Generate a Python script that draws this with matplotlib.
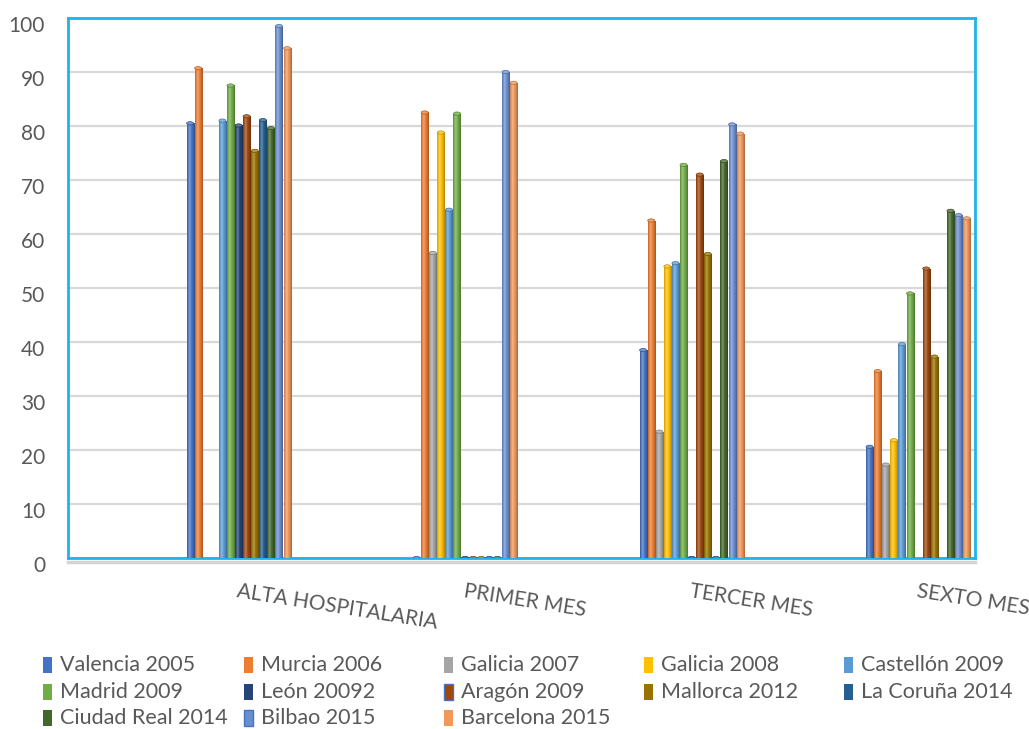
import numpy as np
import matplotlib
matplotlib.use("Agg")
import matplotlib.pyplot as plt
import matplotlib.transforms as mtransforms
from matplotlib.patches import Rectangle, Ellipse
from matplotlib.colors import to_rgb

plt.rcParams['font.family'] = ['Lato', 'DejaVu Sans']

nan = np.nan

categories = ['ALTA HOSPITALARIA', 'PRIMER MES', 'TERCER MES', 'SEXTO MES']

series_names = ['Valencia 2005', 'Murcia 2006', 'Galicia 2007', 'Galicia 2008',
                'Castellón 2009', 'Madrid 2009', 'León 20092', 'Aragón 2009',
                'Mallorca 2012', 'La Coruña 2014', 'Ciudad Real 2014',
                'Bilbao 2015', 'Barcelona 2015']

valencia_2005 = [80.5, 0, 38.5, 20.6]
murcia_2006 = [90.7, 82.5, 62.5, 34.6]
galicia_2007 = [nan, 56.5, 23.4, 17.3]
galicia_2008 = [nan, 78.8, 54.0, 21.8]
castellon_2009 = [81.0, 64.5, 54.6, 39.6]
madrid_2009 = [87.5, 82.3, 72.8, 49.0]
leon_20092 = [80.1, 0, 0, nan]
aragon_2009 = [81.8, 0, 71.0, 53.6]
mallorca_2012 = [75.4, 0, 56.3, 37.3]
la_coruna_2014 = [81.1, 0, 0, nan]
ciudad_real_2014 = [79.6, 0, 73.5, 64.3]
bilbao_2015 = [98.5, 90.0, 80.3, 63.5]
barcelona_2015 = [94.4, 88.0, 78.6, 62.9]

series_values = [valencia_2005, murcia_2006, galicia_2007, galicia_2008,
                 castellon_2009, madrid_2009, leon_20092, aragon_2009,
                 mallorca_2012, la_coruna_2014, ciudad_real_2014,
                 bilbao_2015, barcelona_2015]

colors = ['#4472C4', '#ED7D31', '#A5A5A5', '#FFC000', '#5B9BD5', '#70AD47',
          '#264478', '#9E480E', '#997300', '#255E91', '#43682B', '#698ED0',
          '#F1975A']

yticks = list(range(0, 101, 10))

TEXT = '#595959'
FRAME = '#1DB4EE'

fig = plt.figure(figsize=(10.29, 7.29), dpi=100)
W, H = 1029, 729
ax = fig.add_axes([68 / W, 1 - 558 / H, (975 - 68) / W, (558 - 18) / H])

pitch = 0.0357
width = 0.031
n = len(series_values)

# horizontal shading profile for the cylinders
t = np.linspace(0, 1, 32)
edge = 1 - 0.32 * (np.abs(t - 0.42) / 0.58) ** 2
highlight = 0.28 * np.exp(-((t - 0.33) / 0.17) ** 2)

x_base = np.arange(len(categories))
for j, (vals, col) in enumerate(zip(series_values, colors)):
    xs = x_base + (j - (n - 1) / 2) * pitch
    vals = np.asarray(vals, dtype=float)
    bars = ax.bar(xs, np.nan_to_num(vals), width=width, color=col,
                  linewidth=0, zorder=3)
    base = np.array(to_rgb(col))
    rgb = base[None, :] * edge[:, None]
    rgb = rgb + (1 - rgb) * highlight[:, None]
    img = rgb[None, :, :]
    cap_col = base + (1 - base) * 0.25
    for x, v, patch in zip(xs, vals, bars.patches):
        if np.isnan(v):
            patch.set_visible(False)
            continue
        if v > 0:
            im = ax.imshow(img, extent=[x - width / 2, x + width / 2, 0, v],
                           aspect='auto', interpolation='bilinear', zorder=3.1)
            im.set_clip_path(patch)
        ax.add_patch(Ellipse((x, v), width, 0.6, facecolor=cap_col,
                             edgecolor=base * 0.75, linewidth=0.5, zorder=3.2))

ax.set_xlim(-0.753, 3.251)
ax.set_ylim(0, 100)

ax.set_yticks(yticks)
ax.set_yticklabels([str(v) for v in yticks])
ax.tick_params(axis='y', length=0, pad=16.5, labelsize=15, labelcolor=TEXT)
shift = mtransforms.ScaledTranslation(0, -6 / 100, fig.dpi_scale_trans)
for tick in ax.yaxis.get_major_ticks():
    tick.label1.set_transform(tick.label1.get_transform() + shift)

ax.set_xticks(x_base)
ax.set_xticklabels(categories, rotation=-9, ha='left', va='top',
                   rotation_mode='anchor')
ax.tick_params(axis='x', length=0, pad=17, labelsize=15, labelcolor=TEXT)

ax.yaxis.grid(True, color='#D9D9D9', linewidth=1.6)
ax.set_axisbelow(True)

for side in ['left', 'right', 'top', 'bottom']:
    ax.spines[side].set_color(FRAME)
    ax.spines[side].set_linewidth(2.0)
    ax.spines[side].set_zorder(2.5)

# floor edge below the plot area
ax.plot([0, 1], [-0.008, -0.008], transform=ax.transAxes, color='#D4D4D4',
        linewidth=2.5, clip_on=False, zorder=2)

# legend laid out in five fixed-width columns
row_y = [665, 692, 718]
col_x = [43, 244, 444, 644, 844]
outline = {7: '#4472C4', 11: '#4472C4'}
for i, (name, col) in enumerate(zip(series_names, colors)):
    r, c = divmod(i, 5)
    x0 = col_x[c]
    yc = row_y[r]
    fig.add_artist(Rectangle((x0 / W, 1 - (yc + 8) / H), 9 / W, 16 / H,
                             transform=fig.transFigure, facecolor=col,
                             edgecolor=outline.get(i, 'none'),
                             linewidth=1.0 if i in outline else 0))
    fig.text((x0 + 17) / W, 1 - yc / H, name, fontsize=15.5, color=TEXT,
             va='center', ha='left')

fig.savefig('out.png', dpi=100, facecolor='white')
